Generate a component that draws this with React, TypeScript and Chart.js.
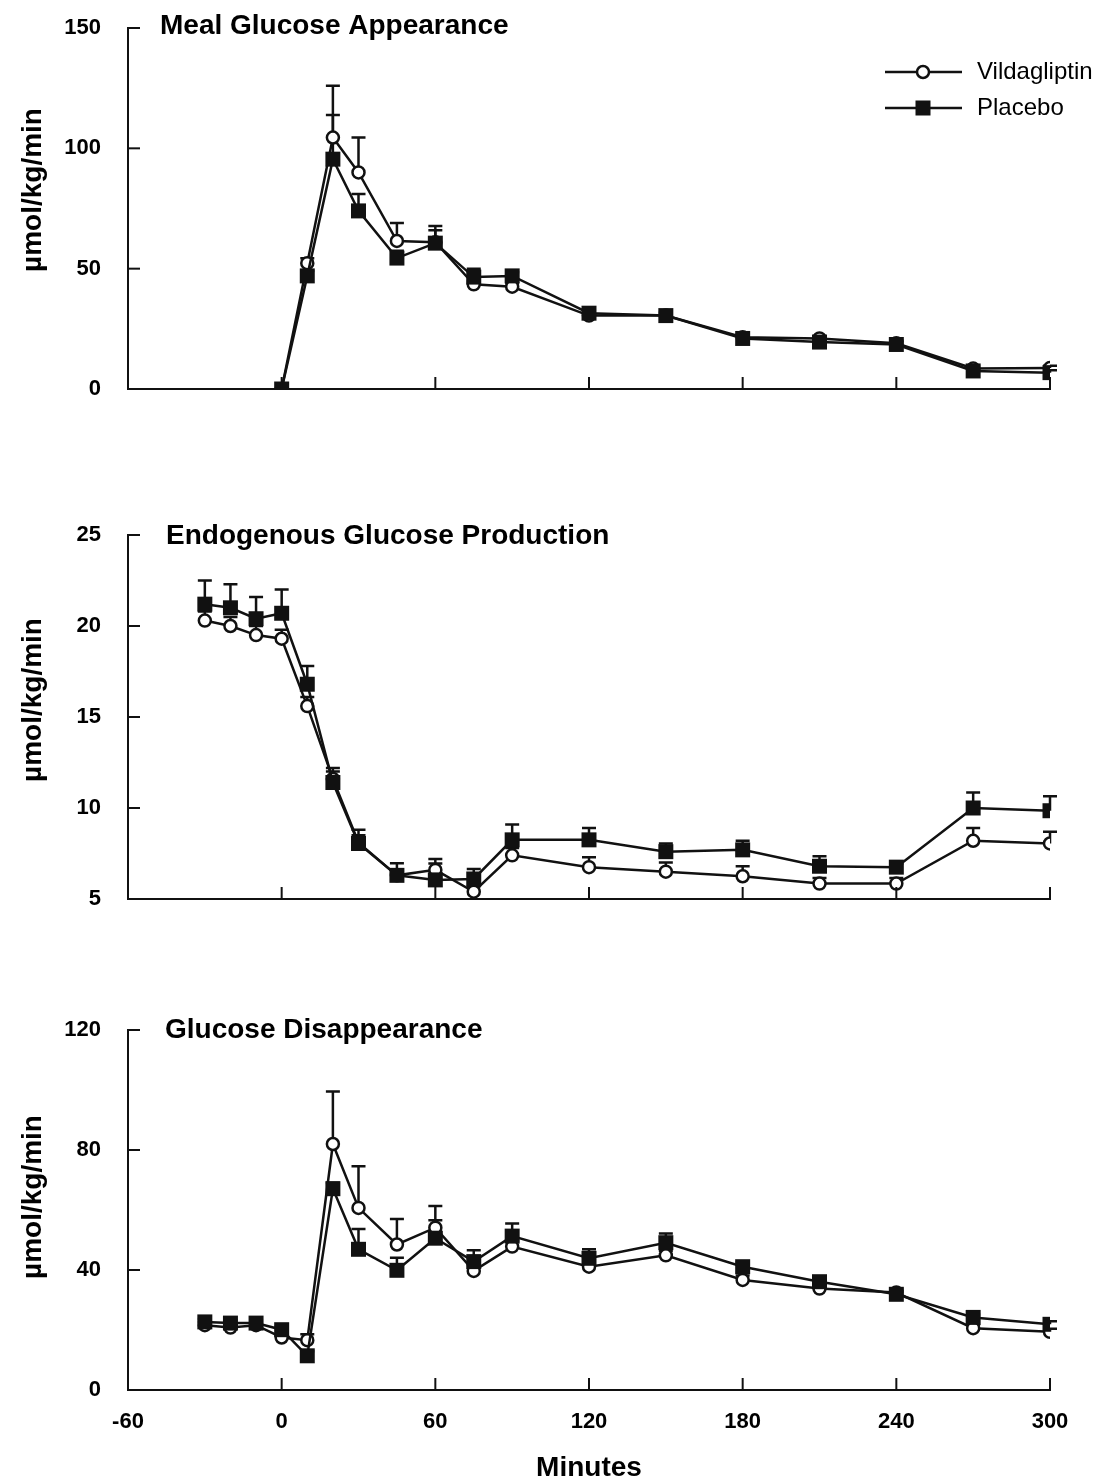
import React, { useEffect, useRef } from "react";
import { Chart, registerables } from "chart.js";
Chart.register(...registerables);

const FONT = "'Liberation Sans', Arial, Helvetica, sans-serif";

// ---- Data ----
const seriesNames = ["Vildagliptin", "Placebo"];

const timesMeal = [0, 10, 20, 30, 45, 60, 75, 90, 120, 150, 180, 210, 240, 270, 300];
const mealVild = [0, 52.3, 104.5, 90, 61.5, 61, 43.5, 42.5, 30.5, 30.5, 21.5, 21, 19, 8.5, 8.7];
const mealVildSem = [0, 2, 21.5, 14.5, 7.5, 6.7, 1.5, 1.5, 1, 1, 1, 1, 1, 1, 1];
const mealPlac = [0, 47, 95.5, 74, 54.4, 60.6, 46.5, 47, 31.5, 30.5, 21, 19.5, 18.5, 7.5, 6.8];
const mealPlacSem = [0, 2, 18.3, 7, 3, 5.4, 3.5, 1.5, 1.5, 1.5, 1.5, 1.5, 1.5, 1, 1];

const timesFull = [-30, -20, -10, 0, 10, 20, 30, 45, 60, 75, 90, 120, 150, 180, 210, 240, 270, 300];
const egpVild = [20.3, 20.0, 19.5, 19.3, 15.6, 11.6, 8.1, 6.3, 6.6, 5.4, 7.4, 6.75, 6.5, 6.25, 5.85, 5.85, 8.2, 8.05];
const egpVildSem = [0.5, 0.5, 0.5, 0.5, 0.5, 0.4, 0.4, 0.3, 0.6, 0.3, 0.4, 0.55, 0.5, 0.55, 0.3, 0.3, 0.7, 0.65];
const egpPlac = [21.2, 21.0, 20.4, 20.7, 16.8, 11.4, 8.05, 6.3, 6.05, 6.1, 8.25, 8.25, 7.6, 7.7, 6.8, 6.75, 10.0, 9.85];
const egpPlacSem = [1.3, 1.3, 1.2, 1.3, 1.0, 0.8, 0.75, 0.66, 0.9, 0.55, 0.85, 0.65, 0.45, 0.5, 0.55, 0.2, 0.85, 0.8];

const rdVild = [21.6, 20.8, 21.6, 17.5, 16.6, 82, 60.7, 48.5, 54.1, 39.7, 47.8, 41.1, 44.9, 36.7, 33.8, 32.5, 20.6, 19.4];
const rdVildSem = [1, 1, 1, 1, 2, 17.5, 13.9, 8.5, 7.2, 2, 2, 1.5, 1.5, 1.5, 1, 1, 1, 1];
const rdPlac = [22.7, 22.3, 22.3, 20.1, 11.4, 67.1, 46.9, 39.9, 50.6, 42.8, 51.3, 43.9, 49.1, 41.1, 36.1, 31.9, 24.2, 21.9];
const rdPlacSem = [1, 1, 1, 1, 1.5, 2, 6.8, 4.2, 6, 3.8, 4.2, 3, 3.1, 1.5, 1.5, 1, 1, 1];

const xMin = -60;
const xMax = 300;
const xTickStep = 60;
const yAxisLabel = "\u00B5mol/kg/min";
const xAxisLabel = "Minutes";

type Panel = {
  title: string;
  times: number[];
  vild: number[];
  vildSem: number[];
  plac: number[];
  placSem: number[];
  yMin: number;
  yMax: number;
  yStep: number;
  top: number;
  height: number;
  areaTop: number;
  areaBottom: number;
  titleX: number;
  titleY: number;
  yLabelY: number;
  showXLabels: boolean;
  showLegend: boolean;
};

const panels: Panel[] = [
  {
    title: "Meal Glucose Appearance",
    times: timesMeal, vild: mealVild, vildSem: mealVildSem, plac: mealPlac, placSem: mealPlacSem,
    yMin: 0, yMax: 150, yStep: 50,
    top: 0, height: 420, areaTop: 28, areaBottom: 389,
    titleX: 160, titleY: 26, yLabelY: 190, showXLabels: false, showLegend: true,
  },
  {
    title: "Endogenous Glucose Production",
    times: timesFull, vild: egpVild, vildSem: egpVildSem, plac: egpPlac, placSem: egpPlacSem,
    yMin: 5, yMax: 25, yStep: 5,
    top: 500, height: 420, areaTop: 35, areaBottom: 399,
    titleX: 166, titleY: 36, yLabelY: 200, showXLabels: false, showLegend: false,
  },
  {
    title: "Glucose Disappearance",
    times: timesFull, vild: rdVild, vildSem: rdVildSem, plac: rdPlac, placSem: rdPlacSem,
    yMin: 0, yMax: 120, yStep: 40,
    top: 1000, height: 481, areaTop: 30, areaBottom: 390,
    titleX: 165, titleY: 30, yLabelY: 197, showXLabels: true, showLegend: false,
  },
];

const W = 1094;
const AREA_LEFT = 128;
const AREA_RIGHT = 1050;
const INK = "#111";

function PanelChart({ p }: { p: Panel }) {
  const ref = useRef<HTMLCanvasElement | null>(null);
  useEffect(() => {
    if (!ref.current) return;
    const sems = [p.placSem, p.vildSem];
    const decor = {
      id: "decor",
      beforeDatasetsDraw(chart: any) {
        const ctx = chart.ctx;
        const ys = chart.scales.y;
        ctx.save();
        ctx.strokeStyle = INK;
        ctx.lineWidth = 2.5;
        chart.data.datasets.forEach((ds: any, i: number) => {
          const meta = chart.getDatasetMeta(i);
          meta.data.forEach((pt: any, j: number) => {
            const v = ds.data[j].y;
            const s = sems[i][j];
            if (!s) return;
            const topPx = ys.getPixelForValue(v + s);
            ctx.beginPath();
            ctx.moveTo(pt.x, pt.y);
            ctx.lineTo(pt.x, topPx);
            ctx.moveTo(pt.x - 7, topPx);
            ctx.lineTo(pt.x + 7, topPx);
            ctx.stroke();
          });
        });
        ctx.restore();
      },
      afterDraw(chart: any) {
        const ctx = chart.ctx;
        const xs = chart.scales.x;
        const ys = chart.scales.y;
        const area = chart.chartArea;
        ctx.save();
        ctx.strokeStyle = INK;
        ctx.lineWidth = 2;
        // inward y ticks
        for (let v = p.yMin + p.yStep; v <= p.yMax + 1e-9; v += p.yStep) {
          const py = ys.getPixelForValue(v);
          ctx.beginPath();
          ctx.moveTo(area.left, py);
          ctx.lineTo(area.left + 12, py);
          ctx.stroke();
        }
        // inward x ticks
        for (let v = xMin + xTickStep; v <= xMax + 1e-9; v += xTickStep) {
          const px = xs.getPixelForValue(v);
          ctx.beginPath();
          ctx.moveTo(px, area.bottom);
          ctx.lineTo(px, area.bottom - 12);
          ctx.stroke();
        }
        // title
        ctx.fillStyle = "#000";
        ctx.font = `bold 28px ${FONT}`;
        ctx.textAlign = "left";
        ctx.textBaseline = "middle";
        ctx.fillText(p.title, p.titleX, p.titleY);
        // y label
        ctx.save();
        ctx.translate(33, p.yLabelY);
        ctx.rotate(-Math.PI / 2);
        ctx.textAlign = "center";
        ctx.textBaseline = "middle";
        ctx.font = `bold 28px ${FONT}`;
        ctx.fillText(yAxisLabel, 0, 0);
        ctx.restore();
        // x label
        if (p.showXLabels) {
          ctx.font = `bold 28px ${FONT}`;
          ctx.textAlign = "center";
          ctx.textBaseline = "middle";
          ctx.fillText(xAxisLabel, (area.left + area.right) / 2, 468);
        }
        // legend
        if (p.showLegend) {
          const rows = [
            { name: seriesNames[0], y: 72, style: "circle" },
            { name: seriesNames[1], y: 108, style: "rect" },
          ];
          rows.forEach((r) => {
            ctx.lineWidth = 2.5;
            ctx.beginPath();
            ctx.moveTo(885, r.y);
            ctx.lineTo(962, r.y);
            ctx.stroke();
            if (r.style === "circle") {
              ctx.beginPath();
              ctx.arc(923, r.y, 6, 0, Math.PI * 2);
              ctx.fillStyle = "#fff";
              ctx.fill();
              ctx.stroke();
            } else {
              ctx.fillStyle = INK;
              ctx.fillRect(915.5, r.y - 7.5, 15, 15);
            }
            ctx.fillStyle = "#000";
            ctx.font = `24px ${FONT}`;
            ctx.textAlign = "left";
            ctx.textBaseline = "middle";
            ctx.fillText(r.name, 977, r.y);
          });
        }
        ctx.restore();
      },
    };

    const chart = new Chart(ref.current, {
      type: "line",
      data: {
        datasets: [
          {
            label: seriesNames[1],
            data: p.times.map((t, i) => ({ x: t, y: p.plac[i] })),
            borderColor: INK,
            borderWidth: 2.5,
            pointStyle: "rect",
            pointRadius: 10.6,
            pointBackgroundColor: INK,
            pointBorderColor: INK,
            pointBorderWidth: 0,
            tension: 0,
          },
          {
            label: seriesNames[0],
            data: p.times.map((t, i) => ({ x: t, y: p.vild[i] })),
            borderColor: INK,
            borderWidth: 2.5,
            pointStyle: "circle",
            pointRadius: 6,
            pointBackgroundColor: "#fff",
            pointBorderColor: INK,
            pointBorderWidth: 2.5,
            tension: 0,
          },
        ],
      },
      options: {
        animation: false,
        responsive: false,
        maintainAspectRatio: false,
        layout: { padding: { top: p.areaTop, left: 0, right: W - AREA_RIGHT, bottom: 0 } },
        plugins: { legend: { display: false }, tooltip: { enabled: false }, title: { display: false } },
        scales: {
          x: {
            type: "linear",
            min: xMin,
            max: xMax,
            grid: { display: false, drawTicks: true, tickLength: 10 },
            border: { display: true, color: INK, width: 2 },
            ticks: {
              display: p.showXLabels,
              stepSize: xTickStep,
              color: "#000",
              font: { family: FONT, size: 22, weight: "bold" },
              padding: 9,
              maxRotation: 0,
            },
            afterFit: (s: any) => {
              s.height = p.height - p.areaBottom;
            },
          },
          y: {
            type: "linear",
            min: p.yMin,
            max: p.yMax,
            grid: { display: false, drawTicks: true, tickLength: 25 },
            border: { display: true, color: INK, width: 2 },
            ticks: {
              stepSize: p.yStep,
              color: "#000",
              font: { family: FONT, size: 22, weight: "bold" },
              padding: 2,
            },
            afterFit: (s: any) => {
              s.width = AREA_LEFT;
            },
          },
        },
      },
      plugins: [decor],
    } as any);
    return () => chart.destroy();
  }, [p]);
  return (
    <canvas
      ref={ref}
      width={W}
      height={p.height}
      style={{ position: "absolute", left: 0, top: p.top, width: W, height: p.height }}
    />
  );
}

export default function App() {
  return (
    <div style={{ position: "absolute", left: 0, top: 0, width: W, height: 1481, background: "#fff" }}>
      {panels.map((p, i) => (
        <PanelChart key={i} p={p} />
      ))}
    </div>
  );
}
